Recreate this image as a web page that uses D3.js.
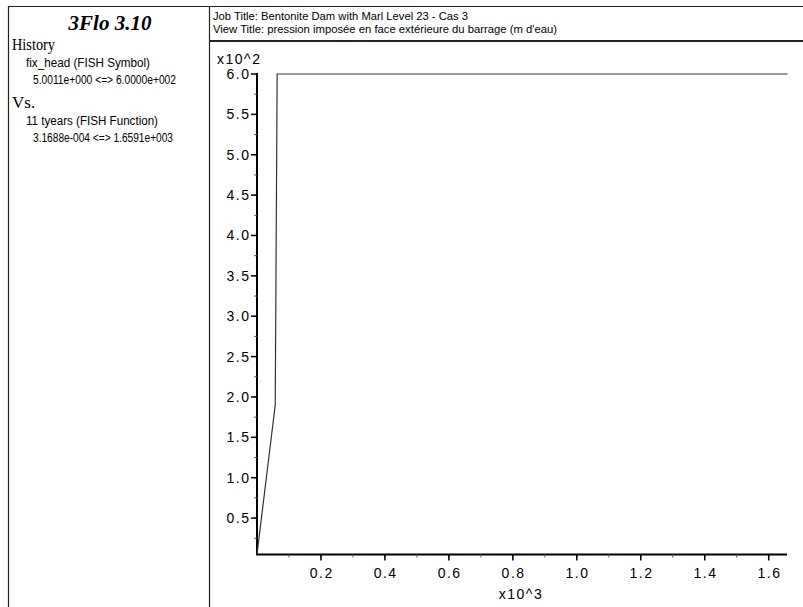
<!DOCTYPE html>
<html><head><meta charset="utf-8">
<script src="https://cdn.jsdelivr.net/npm/d3@7"></script>
<style>body{margin:0;background:#fff}svg{display:block}text{font-family:"Liberation Sans",Arial,sans-serif}</style>
</head><body>
<script>
// Data (x in years, y in m d'eau)
const timeYears = [0.00031688, 57, 63, 1659.1];
const fixHead   = [5.0011, 190, 600, 600];
const xTicks = [0.2, 0.4, 0.6, 0.8, 1.0, 1.2, 1.4, 1.6];          // x10^3
const yTicks = [0.5, 1.0, 1.5, 2.0, 2.5, 3.0, 3.5, 4.0, 4.5, 5.0, 5.5, 6.0]; // x10^2
const jobTitle = "Job Title: Bentonite Dam with Marl Level 23 - Cas 3";
const viewTitle = "View Title: pression imposée en face extérieure du barrage (m d'eau)";
const legendLines = ["fix_head (FISH Symbol)", "5.0011e+000 <=> 6.0000e+002", "11 tyears (FISH Function)", "3.1688e-004 <=> 1.6591e+003"];

const W = 803, H = 607;
const svg = d3.select("body").append("svg").attr("width", W).attr("height", H);

// frame
svg.append("line").attr("x1",8).attr("x2",W).attr("y1",6.5).attr("y2",6.5).attr("stroke","#222").attr("stroke-width",1.2);
svg.append("line").attr("x1",8.5).attr("x2",8.5).attr("y1",6).attr("y2",H).attr("stroke","#222").attr("stroke-width",1.2);
svg.append("line").attr("x1",209.5).attr("x2",209.5).attr("y1",6).attr("y2",H).attr("stroke","#222").attr("stroke-width",1.2);
svg.append("line").attr("x1",209).attr("x2",W).attr("y1",41).attr("y2",41).attr("stroke","#222").attr("stroke-width",2);

// left panel
svg.append("text").attr("x",110).attr("y",30).attr("text-anchor","middle")
  .style("font-family","'Liberation Serif','Times New Roman',serif").style("font-weight","bold").style("font-style","italic").style("font-size","21px").text("3Flo 3.10");
svg.append("text").attr("x",12).attr("y",50).style("font-family","'Liberation Serif',serif").style("font-size","17px")
  .attr("textLength",43).attr("lengthAdjust","spacingAndGlyphs").text("History");
svg.append("text").attr("x",12).attr("y",108).style("font-family","'Liberation Serif',serif").style("font-size","17px").text("Vs.");
const legY = [67, 84, 125, 142], legX = [26, 33, 26, 33], legLen = [124, 143, 132, 140];
legendLines.forEach((t,i)=>{
  svg.append("text").attr("x",legX[i]).attr("y",legY[i]).style("font-size","12px")
    .attr("textLength",legLen[i]).attr("lengthAdjust","spacingAndGlyphs").text(t);
});

// header
svg.append("text").attr("x",213).attr("y",20).style("font-size","11px")
  .attr("textLength",255).attr("lengthAdjust","spacingAndGlyphs").text(jobTitle);
svg.append("text").attr("x",213).attr("y",33).style("font-size","11px")
  .attr("textLength",344).attr("lengthAdjust","spacingAndGlyphs").text(viewTitle);

// scales
const x = d3.scaleLinear().domain([0.00031688, 1659.1]).range([257, 787.6]);
const y = d3.scaleLinear().domain([5.0011, 600]).range([554.4, 74]);

const lblStyle = sel => sel.style("font-size","14px").style("letter-spacing","1.5px");

// axes
const gx = svg.append("g").attr("transform","translate(0,554.5)");
gx.append("line").attr("x1",256).attr("x2",787).attr("stroke","#000").attr("stroke-width",2);
const xMinor = d3.range(1, 17).map(d=>d*0.1);
gx.selectAll(".xm").data(xMinor).enter().append("line")
  .attr("x1",d=>x(d*1000)).attr("x2",d=>x(d*1000)).attr("y1",0).attr("y2",3).attr("stroke","#555").attr("stroke-width",1);
gx.selectAll(".xt").data(xTicks).enter().append("line")
  .attr("x1",d=>x(d*1000)).attr("x2",d=>x(d*1000)).attr("y1",0).attr("y2",6).attr("stroke","#000").attr("stroke-width",1.5);
gx.selectAll(".xl").data(xTicks).enter().append("text")
  .attr("x",d=>x(d*1000)+0.75).attr("y",23).attr("text-anchor","middle").call(lblStyle).text(d=>d.toFixed(1));
svg.append("text").attr("x",521).attr("y",599).attr("text-anchor","middle").call(lblStyle).text("x10^3");

const gy = svg.append("g").attr("transform","translate(257,0)");
gy.append("line").attr("y1",555).attr("y2",73).attr("stroke","#000").attr("stroke-width",2);
const yMinor = d3.range(1, 24).map(d=>d*0.25);
gy.selectAll(".ym").data(yMinor).enter().append("line")
  .attr("y1",d=>y(d*100)).attr("y2",d=>y(d*100)).attr("x1",0).attr("x2",-3).attr("stroke","#555").attr("stroke-width",1);
gy.selectAll(".yt").data(yTicks).enter().append("line")
  .attr("y1",d=>y(d*100)).attr("y2",d=>y(d*100)).attr("x1",0).attr("x2",-6).attr("stroke","#000").attr("stroke-width",1.5);
gy.selectAll(".yl").data(yTicks).enter().append("text")
  .attr("x",-6.5).attr("y",d=>y(d*100)+5).attr("text-anchor","end").call(lblStyle).text(d=>d.toFixed(1));
svg.append("text").attr("x",217).attr("y",64).call(lblStyle).text("x10^2");

// data line
const pts = timeYears.map((t,i)=>[t, fixHead[i]]);
svg.append("path").datum(pts)
  .attr("d", d3.line().x(d=>x(d[0])).y(d=>y(d[1])))
  .attr("fill","none").attr("stroke","#333").attr("stroke-width",1.2);
</script>
</body></html>
